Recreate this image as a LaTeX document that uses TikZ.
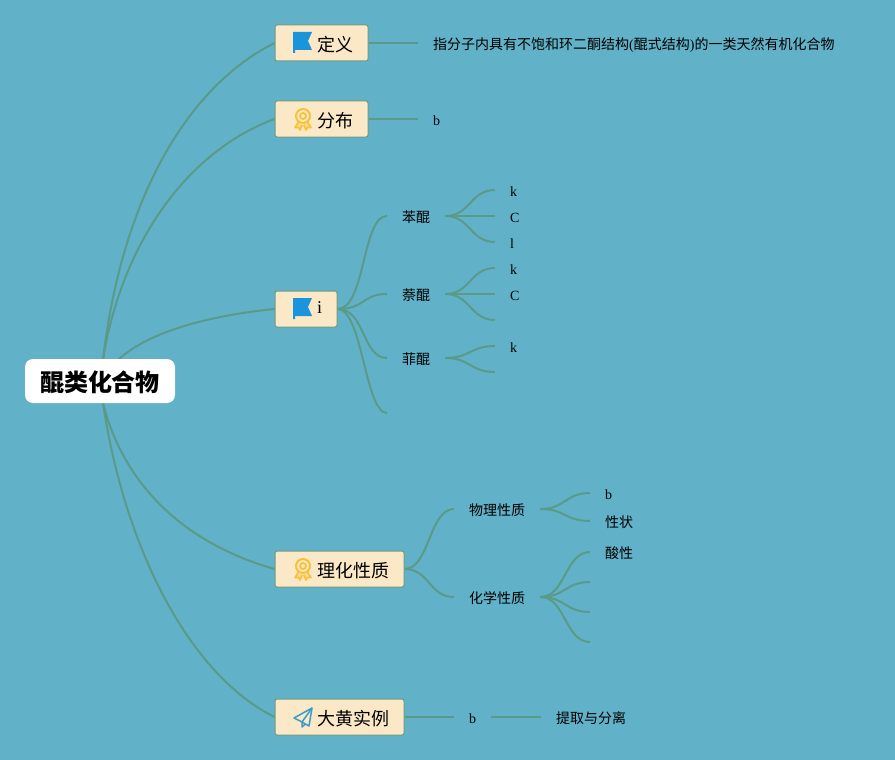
\documentclass[tikz,border=0pt]{standalone}
\usepackage{fontspec}
\setmainfont{Liberation Serif}
\newfontfamily\cjk{Noto Sans CJK SC}
\usetikzlibrary{backgrounds}
\definecolor{bgc}{HTML}{61B1C8}
\definecolor{linkc}{HTML}{5A9A88}
\definecolor{boxc}{HTML}{FBE8C6}
\definecolor{boxb}{HTML}{6F9A80}
\definecolor{flagc}{HTML}{1A95DC}
\definecolor{medalc}{HTML}{F8C13A}
\definecolor{planec}{HTML}{3A9CCB}
\tikzset{
  x=1pt,y=-1pt,
  link/.style={draw=linkc,line width=2pt},
  rootbox/.style={fill=white,rounded corners=8pt,minimum width=150pt,minimum height=44pt,inner sep=0pt,text height=21pt,text depth=0pt,font=\cjk\bfseries\fontsize{24}{28}\selectfont},
  topic/.style={draw=boxb,line width=1pt,fill=boxc,rounded corners=2pt,minimum height=36pt,inner sep=0pt,text height=17pt,text depth=0pt,font=\cjk\fontsize{18}{22}\selectfont},
  leaf/.style={anchor=west,inner ysep=0pt,inner xsep=15pt,text height=12pt,text depth=0pt,font=\fontsize{14}{16}\selectfont},
  flagicon/.pic={\fill[flagc] (-10,-11)--(9,-11)--(5,-2)--(9,7)--(-8,7)--(-8,10)--(-10,10)--cycle;},
  medalicon/.pic={
    \draw[medalc,line width=2pt] (0,-3) circle[radius=7];
    \draw[medalc,line width=1.8pt] (0,-3) circle[radius=3];
    \draw[medalc,fill=medalc!40!boxc,line width=1.6pt,line join=round] (-4.5,3)--(-8,8.5)--(-4.5,8.5)--(-3,11)--(-0.8,6);
    \draw[medalc,fill=medalc!40!boxc,line width=1.6pt,line join=round] (4.5,3)--(8,8.5)--(4.5,8.5)--(3,11)--(0.8,6);},
  planeicon/.pic={
    \draw[planec,line width=1.5pt,line join=round] (-9,1)--(9,-9)--(6,9)--(-1,5)--cycle;
    \draw[planec,line width=1.5pt,line join=round] (9,-9)--(-1,5)--(-1,10)--(2.5,7);},
}
\newcommand{\Tx}[1]{{\cjk #1}}
\begin{document}
\begin{tikzpicture}
\useasboundingbox (0,0) rectangle (895,760);
% main nodes
\node[rootbox] (root) at (100,381) {醌类化合物};
\node[topic,minimum width=93pt] (def) at (321.5,43) {\hspace*{27pt}定义};
\node[topic,minimum width=93pt] (dist) at (321.5,119) {\hspace*{27pt}分布};
\node[topic,minimum width=62pt,text height=8pt] (tI) at (306,309) {\hspace*{27pt}{\rmfamily i}};
\node[topic,minimum width=129pt] (phys) at (339.5,569) {\hspace*{27pt}理化性质};
\node[topic,minimum width=129pt] (ex) at (339.5,717) {\hspace*{27pt}大黄实例};
\pic at (303,43) {flagicon};
\pic at (303,119) {medalicon};
\pic at (303,309) {flagicon};
\pic at (303,569) {medalicon};
\pic at (303,717) {planeicon};
% leaf texts
\node[leaf,text height=13pt] (defT) at (418,43) {\Tx{指分子内具有不饱和环二酮结构}(\Tx{醌式结构})\Tx{的一类天然有机化合物}};
\node[leaf] (distT) at (418,119) {b};
\node[leaf] (ben) at (387,216) {\Tx{苯醌}};
\node[leaf] (nai) at (387,294) {\Tx{萘醌}};
\node[leaf] (fei) at (387,358) {\Tx{菲醌}};
\coordinate (iEnd) at (387,413);
\node[leaf] (b1) at (495,190) {k};
\node[leaf] (b2) at (495,216) {C};
\node[leaf] (b3) at (495,242) {l};
\node[leaf] (n1) at (495,268) {k};
\node[leaf] (n2) at (495,294) {C};
\coordinate (n3) at (495,320);
\node[leaf] (f1) at (495,346) {k};
\coordinate (f2) at (495,372);
\node[leaf] (wl) at (454,509) {\Tx{物理性质}};
\node[leaf] (hx) at (454,597) {\Tx{化学性质}};
\node[leaf] (w1) at (590,493) {b};
\node[leaf] (w2) at (590,521) {\Tx{性状}};
\node[leaf] (h1) at (590,552) {\Tx{酸性}};
\coordinate (h2) at (590,582);
\coordinate (h3) at (590,612);
\coordinate (h4) at (590,642);
\node[leaf] (exB) at (454,717) {b};
\node[leaf] (exT) at (541,717) {\Tx{提取与分离}};
\coordinate (rootA) at (103,360);
\coordinate (rootB) at (118,360);
\coordinate (rootC) at (103,403);
\begin{scope}[on background layer]
\fill[bgc] (0,0) rectangle (895,760);
\draw[link] (rootA) .. controls (122,195) and (190,85) .. (def.west);
\draw[link] (rootA) .. controls (122,240) and (190,150) .. (dist.west);
\draw[link] (rootB) .. controls (150,330) and (215,315) .. (tI.west);
\draw[link] (rootC) .. controls (125,490) and (190,545) .. (phys.west);
\draw[link] (rootC) .. controls (125,550) and (190,675) .. (ex.west);
\draw[link] (def.east) -- (defT.west);
\draw[link] (dist.east) -- (distT.west);
\foreach \t in {ben,nai,fei}{\draw[link] (tI.east) .. controls +(28,0) and +(-25,0) .. (\t.west);}
\draw[link] (tI.east) .. controls +(25,0) and +(-22,0) .. (iEnd);
\foreach \t in {b1,b2,b3}{\draw[link] (ben.east) .. controls +(25,0) and +(-25,0) .. (\t.west);}
\foreach \t in {n1,n2}{\draw[link] (nai.east) .. controls +(25,0) and +(-25,0) .. (\t.west);}
\draw[link] (nai.east) .. controls +(25,0) and +(-25,0) .. (n3);
\draw[link] (fei.east) .. controls +(25,0) and +(-25,0) .. (f1.west);
\draw[link] (fei.east) .. controls +(25,0) and +(-25,0) .. (f2);
\foreach \t in {wl,hx}{\draw[link] (phys.east) .. controls +(25,0) and +(-25,0) .. (\t.west);}
\foreach \t in {w1,w2}{\draw[link] (wl.east) .. controls +(25,0) and +(-25,0) .. (\t.west);}
\draw[link] (hx.east) .. controls +(25,0) and +(-25,0) .. (h1.west);
\foreach \t in {h2,h3,h4}{\draw[link] (hx.east) .. controls +(25,0) and +(-25,0) .. (\t);}
\draw[link] (ex.east) -- (exB.west);
\draw[link] (exB.east) -- (exT.west);
\end{scope}
\end{tikzpicture}
\end{document}
